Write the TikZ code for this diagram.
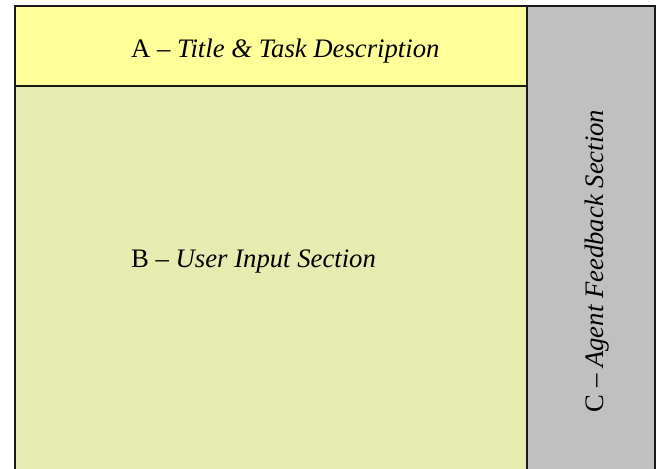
\documentclass[tikz,border=0pt]{standalone}
\usepackage{fontspec}
\setmainfont{Liberation Serif}
\definecolor{titlefill}{HTML}{FFFF99}
\definecolor{inputfill}{HTML}{E6EBAF}
\definecolor{feedfill}{HTML}{C0C0C0}
\begin{document}
\begin{tikzpicture}[x=1pt,y=1pt,
  panel/.style={draw=black!90, line width=2pt},
  label/.style={inner sep=0pt, font=\fontsize{26.7}{31}\selectfont}]
\useasboundingbox (0,0) rectangle (660,468);
\clip (0,0) rectangle (660,468);
% panels
\path[panel, fill=inputfill] (15,382) rectangle (527,-10) coordinate (inputbox);
\path[panel, fill=titlefill] (15,462) rectangle (527,382) coordinate (titlebox);
\path[panel, fill=feedfill] (527,462) rectangle (655,-10) coordinate (feedbox);
% section labels
\node[label, anchor=base west] (ta) at (131,410.5) {A -- \textit{Title \& Task Description}};
\node[label, anchor=base west] (tb) at (131,200) {B -- \textit{User Input Section}};
\node[label, anchor=base, rotate=90] (tc) at (603,207) {C -- \textit{Agent Feedback Section}};
\end{tikzpicture}
\end{document}
